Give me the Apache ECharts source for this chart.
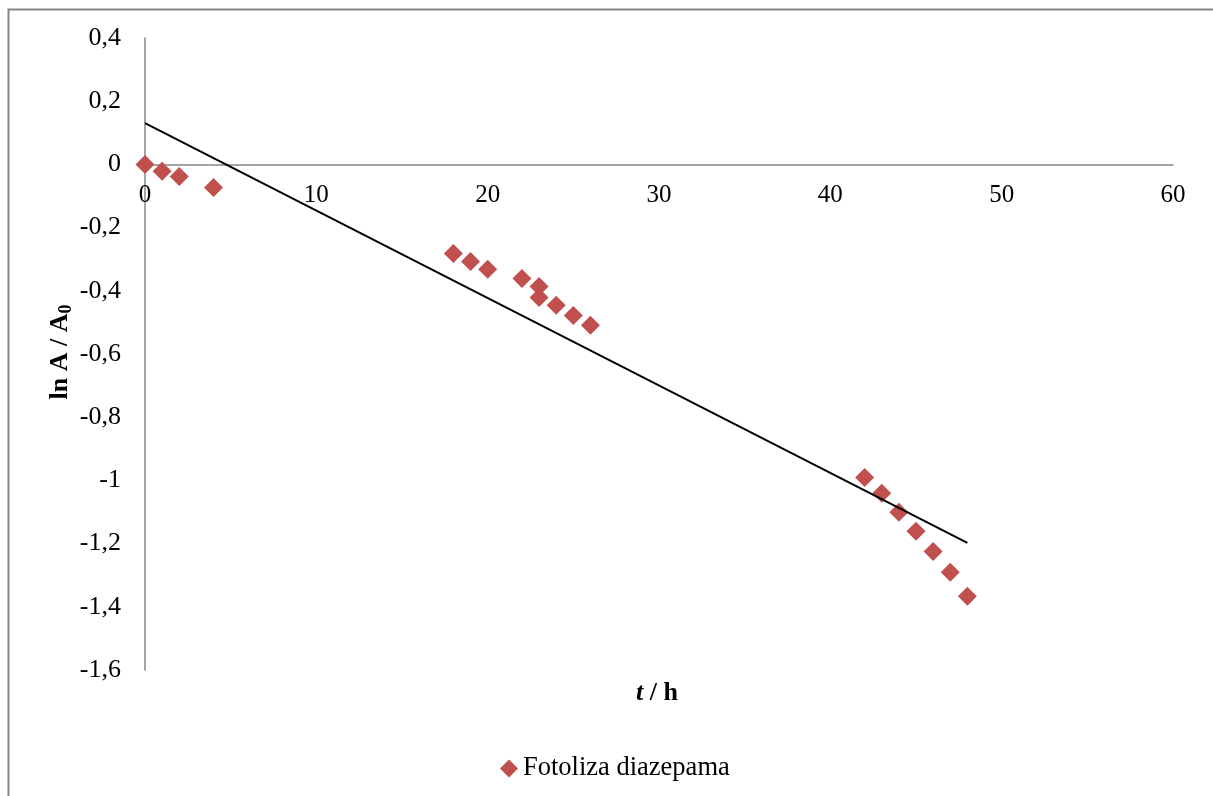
<!DOCTYPE html>
<html>
<head>
<meta charset="utf-8">
<script src="https://cdn.jsdelivr.net/npm/echarts@6/dist/echarts.min.js"></script>
<style>
  html, body { margin: 0; padding: 0; background: #fff; }
  #chart { width: 1213px; height: 796px; }
</style>
</head>
<body>
<div id="chart"></div>
<script>
// time in hours and ln(A/A0)
const timeH = [0, 1, 2, 4, 18, 19, 20, 22, 23, 23, 24, 25, 26, 42, 43, 44, 45, 46, 47, 48];
const lnA = [0, -0.022, -0.038, -0.073, -0.282, -0.307, -0.332, -0.361, -0.386, -0.421,
  -0.446, -0.478, -0.509, -0.991, -1.041, -1.101, -1.161, -1.225, -1.291, -1.367];
const seriesName = 'Fotoliza diazepama';
const xTicks = { min: 0, max: 60, step: 10 };
const yTicks = { min: -1.6, max: 0.4, step: 0.2 };

// linear trendline (least squares), like the spreadsheet one
function fitLine(xs, ys) {
  const n = xs.length;
  const mx = xs.reduce((a, b) => a + b, 0) / n;
  const my = ys.reduce((a, b) => a + b, 0) / n;
  let sxy = 0, sxx = 0;
  for (let i = 0; i < n; i++) {
    sxy += (xs[i] - mx) * (ys[i] - my);
    sxx += (xs[i] - mx) * (xs[i] - mx);
  }
  const k = sxy / sxx;
  return { k: k, b: my - k * mx };
}
const fit = fitLine(timeH, lnA);
const xLo = Math.min(...timeH), xHi = Math.max(...timeH);
const trend = [[xLo, fit.b + fit.k * xLo], [xHi, fit.b + fit.k * xHi]];

const fmt = v => String(Math.round(v * 10) / 10).replace('.', ',');
const font = 'Liberation Serif';
const axisGray = '#868686';

const gridTop = 38, gridBottom = 126, chartH = 796;
// x axis sits on y = 0: shift a top axis down by the distance from ymax to 0
const plotH = chartH - gridTop - gridBottom;
const zeroShift = plotH * yTicks.max / (yTicks.max - yTicks.min);

const chart = echarts.init(document.getElementById('chart'));
chart.setOption({
  animation: false,
  textStyle: { fontFamily: font },
  grid: { left: 145, right: 40, top: gridTop, bottom: gridBottom },
  xAxis: {
    type: 'value',
    position: 'top',
    offset: -zeroShift,
    min: xTicks.min, max: xTicks.max, interval: xTicks.step,
    axisLine: { onZero: false, lineStyle: { color: axisGray, width: 1.5 } },
    axisTick: { show: false },
    splitLine: { show: false },
    axisLabel: { inside: true, color: '#000', fontSize: 25, fontFamily: font, margin: 19, formatter: fmt }
  },
  yAxis: {
    type: 'value',
    min: yTicks.min, max: yTicks.max, interval: yTicks.step,
    axisLine: { show: true, onZero: false, lineStyle: { color: axisGray, width: 1.5 } },
    axisTick: { show: false },
    splitLine: { show: false },
    axisLabel: { color: '#000', fontSize: 26, fontFamily: font, margin: 24, formatter: fmt }
  },
  legend: {
    data: [seriesName],
    left: 495, top: 750,
    itemWidth: 18, itemHeight: 18,
    textStyle: { color: '#000', fontSize: 26.5, fontFamily: font }
  },
  graphic: [
    {
      type: 'rect', left: 6, top: 7, silent: true,
      shape: { width: 1220, height: 800 },
      style: { fill: 'none', stroke: axisGray, lineWidth: 2 }
    },
    {
      type: 'text', x: 657, y: 693,
      style: {
        text: '{i|t}{b| / h}', align: 'center', verticalAlign: 'middle',
        rich: {
          i: { fontFamily: font, fontSize: 26, fontWeight: 'bold', fontStyle: 'italic', fill: '#000' },
          b: { fontFamily: font, fontSize: 26, fontWeight: 'bold', fill: '#000' }
        }
      }
    },
    {
      type: 'text', x: 60, y: 352, rotation: Math.PI / 2,
      style: {
        text: '{b|ln A / A}{s|0}', align: 'center', verticalAlign: 'middle',
        rich: {
          b: { fontFamily: font, fontSize: 26, fontWeight: 'bold', fill: '#000' },
          s: { fontFamily: font, fontSize: 18, fontWeight: 'bold', fill: '#000', padding: [12, 0, 0, 0] }
        }
      }
    }
  ],
  series: [
    {
      name: seriesName,
      type: 'scatter',
      symbol: 'diamond',
      symbolSize: 19,
      itemStyle: { color: '#C0504D', opacity: 1 },
      data: timeH.map((t, i) => [t, lnA[i]]),
      z: 3
    },
    {
      name: 'trend',
      type: 'line',
      data: trend,
      symbol: 'none',
      lineStyle: { color: '#000', width: 2 },
      z: 4
    }
  ]
});
</script>
</body>
</html>
